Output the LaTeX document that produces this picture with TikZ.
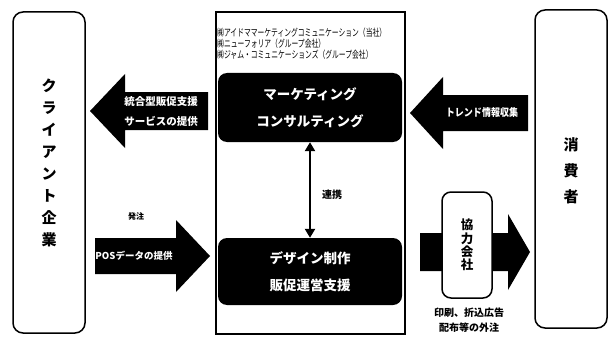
\documentclass[tikz,border=0pt]{standalone}
\usepackage{fontspec}
\setmainfont{Noto Sans CJK JP}
\newfontfamily\narrowfont[FakeStretch=0.68]{Noto Sans CJK JP}
\newfontfamily\trendfont[FakeStretch=0.86]{Noto Sans CJK JP}
\usetikzlibrary{arrows.meta}
\begin{document}
\begin{tikzpicture}[x=1pt,y=-1pt,
  wbox/.style={draw=black,line width=1.5pt,rounded corners=10pt,fill=white,inner sep=0pt},
  bbox/.style={fill=black,rounded corners=9pt,inner sep=0pt,text=white,align=center,
    font=\fontsize{13.5}{27.5}\selectfont\bfseries},
  bigarrow/.style={fill=black},
  wlabel/.style={text=white,align=center,inner sep=0pt},
  lbl/.style={text=black,align=center,inner sep=0pt}]
\useasboundingbox (0,0) rectangle (613,345);

% client
\node[wbox,minimum width=72pt,minimum height=321pt] (client) at (49,172.5) {};
\node[lbl,font=\fontsize{15}{22}\selectfont\bfseries] (clientT) at (49,163)
  {ク\\ラ\\イ\\ア\\ン\\ト\\企\\業};

% company frame
\node[draw=black,line width=1.3pt,minimum width=189pt,minimum height=322pt,inner sep=0pt] (corp) at (310.5,173) {};
\node[lbl,anchor=west,align=left,font=\narrowfont\fontsize{10}{11}\selectfont] (members) at (217,44)
  {㈱アイドママーケティングコミュニケーション（当社）\\㈱ニューフォリア（グループ会社）\\㈱ジャム・コミュニケーションズ（グループ会社）};

\node[bbox,minimum width=184pt,minimum height=69pt] (mc) at (310,107.5) {マーケティング\\コンサルティング};
\node[bbox,minimum width=184pt,minimum height=67pt] (dz) at (310,271.5) {デザイン制作\\販促運営支援};
\draw[line width=2.5pt,{Triangle[width=10pt,length=9pt]}-{Triangle[width=10pt,length=9pt]}] (mc.south) -- (dz.north);
\node[lbl,font=\fontsize{10}{12}\selectfont\bfseries] (renkei) at (332,195) {連携};

% left arrow: service
\fill[bigarrow] (90,111) -- (125,74) -- (125,92) -- (208,92) -- (208,130) -- (125,130) -- (125,148) -- cycle;
\node[wlabel,font=\fontsize{10.5}{20}\selectfont\bfseries] (svc) at (161,112) {統合型販促支援\\サービスの提供};

% right arrow: POS
\fill[bigarrow] (95,238) -- (176,238) -- (176,220) -- (210,256) -- (176,292) -- (176,274) -- (95,274) -- cycle;
\node[wlabel,font=\fontsize{9.5}{12}\selectfont\bfseries] (pos) at (134,256) {POSデータの提供};
\node[lbl,font=\fontsize{8}{10}\selectfont\bfseries] (hatchu) at (136,216) {発注};

% trend arrow
\fill[bigarrow] (410,113) -- (443,77) -- (443,95) -- (528,95) -- (528,131) -- (443,131) -- (443,149) -- cycle;
\node[wlabel,font=\trendfont\fontsize{10.5}{12}\selectfont\bfseries] (trend) at (482,113) {トレンド情報収集};

% partner arrow
\fill[bigarrow] (420,233) -- (508,233) -- (508,214) -- (530,252) -- (508,290) -- (508,271) -- (420,271) -- cycle;
\node[wbox,rounded corners=9pt,minimum width=50pt,minimum height=106pt] (partner) at (467,245) {};
\node[lbl,font=\fontsize{12.5}{13.3}\selectfont\bfseries] (partnerT) at (467,245) {協\\力\\会\\社};
\node[lbl,font=\fontsize{10}{15}\selectfont\bfseries] (outsrc) at (469,320.5) {印刷、折込広告\\配布等の外注};

% consumer
\node[wbox,minimum width=72pt,minimum height=318pt] (cons) at (571,169) {};
\node[lbl,font=\fontsize{15}{26}\selectfont\bfseries] (consT) at (571,171) {消\\費\\者};
\end{tikzpicture}
\end{document}
